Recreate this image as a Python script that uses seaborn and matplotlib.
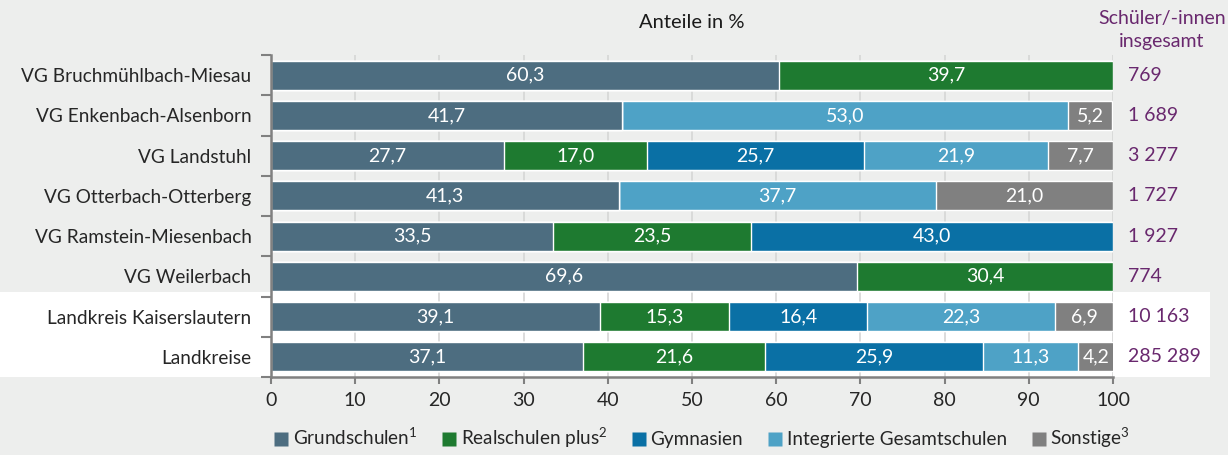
import numpy as np
import pandas as pd
import matplotlib
matplotlib.use('Agg')
import matplotlib.pyplot as plt
from matplotlib.patches import Rectangle
from matplotlib.lines import Line2D
import seaborn as sns

regions = ['VG Bruchmühlbach-Miesau', 'VG Enkenbach-Alsenborn', 'VG Landstuhl',
           'VG Otterbach-Otterberg', 'VG Ramstein-Miesenbach', 'VG Weilerbach',
           'Landkreis Kaiserslautern', 'Landkreise']
school_types = ['Grundschulen', 'Realschulen plus', 'Gymnasien',
                'Integrierte Gesamtschulen', 'Sonstige']
legend_labels = [r'Grundschulen$^1$', r'Realschulen plus$^2$', 'Gymnasien',
                 'Integrierte Gesamtschulen', r'Sonstige$^3$']

grundschulen = [60.3, 41.7, 27.7, 41.3, 33.5, 69.6, 39.1, 37.1]
realschulen = [39.7, 0.0, 17.0, 0.0, 23.5, 30.4, 15.3, 21.6]
gymnasien = [0.0, 0.0, 25.7, 0.0, 43.0, 0.0, 16.4, 25.9]
gesamtschulen = [0.0, 53.0, 21.9, 37.7, 0.0, 0.0, 22.3, 11.3]
sonstige = [0.0, 5.2, 7.7, 21.0, 0.0, 0.0, 6.9, 4.2]
totals = ['769', '1 689', '3 277', '1 727', '1 927', '774', '10 163', '285 289']

colors = ['#4d6d80', '#1e7a30', '#0a70a5', '#4ea2c6', '#808080']
bg = '#edeeed'
purple = '#69286e'

df = pd.DataFrame({'Region': regions, 'Grundschulen': grundschulen,
                   'Realschulen plus': realschulen, 'Gymnasien': gymnasien,
                   'Integrierte Gesamtschulen': gesamtschulen, 'Sonstige': sonstige})
cum = df[school_types].cumsum(axis=1)

sns.set_style('white')
plt.rcParams['font.family'] = ['Lato', 'DejaVu Sans']
plt.rcParams['mathtext.fontset'] = 'custom'
plt.rcParams['mathtext.rm'] = 'Lato'

fig = plt.figure(figsize=(12.28, 4.55), dpi=100, facecolor=bg)
# white band behind the two summary rows
band = Rectangle((0, 1 - 377 / 455), 1210 / 1228, 85 / 455,
                 transform=fig.transFigure, facecolor='white',
                 edgecolor='none', zorder=-5)
fig.patches.append(band)
ax = fig.add_axes([271 / 1228, 1 - 377 / 455, 842 / 1228, 322 / 455])
ax.set_facecolor('none')
ax.set_zorder(1)

# stacked bars: draw cumulative totals from last to first
for k in range(len(school_types) - 1, -1, -1):
    sns.barplot(x=cum[school_types[k]], y=df['Region'], orient='h',
                color=colors[k], width=0.72, saturation=1, ax=ax, zorder=2)

for i in range(len(regions)):
    left = 0
    for k, t in enumerate(school_types):
        v = df[t][i]
        if v > 0:
            ax.text(left + v / 2, i, f'{v:.1f}'.replace('.', ','), ha='center',
                    va='center', color='white', fontsize=14, zorder=3)
        left += v
    ax.text(101.8, i, totals[i], ha='left', va='center', color=purple,
            fontsize=14, clip_on=False)

ax.set_xlim(0, 100)
ax.set_ylim(7.5, -0.5)
ax.set_xticks(range(0, 101, 10))
ax.xaxis.grid(True, color='#d6d6d6', linewidth=1.2, zorder=0)
ax.set_axisbelow(True)
ax.set_xlabel('')
ax.set_ylabel('')
ax.tick_params(axis='x', labelsize=14, length=5, color='#808080', width=1.5,
               direction='out', pad=6, bottom=True)
ax.tick_params(axis='y', labelsize=13.7, length=0, pad=14)
ax.set_yticks(np.arange(-0.5, 8, 1), minor=True)
ax.tick_params(axis='y', which='minor', length=7, color='#808080', width=1.5,
               direction='out', left=True)
for s in ['top', 'right']:
    ax.spines[s].set_visible(False)
for s in ['left', 'bottom']:
    ax.spines[s].set_color('#808080')
    ax.spines[s].set_linewidth(1.8)

fig.text(692 / 1228, 1 - 22 / 455, 'Anteile in %', ha='center', va='center',
         fontsize=14.5, color='#1a1a1a')
fig.text(1162 / 1228, 1 - 30 / 455, 'Schüler/-innen\ninsgesamt', ha='center',
         va='center', fontsize=14, color=purple, linespacing=1.4)

handles = [Line2D([0], [0], marker='s', linestyle='none', markersize=10,
                  markerfacecolor=c, markeredgecolor='none') for c in colors]
fig.legend(handles, legend_labels, loc='center', bbox_to_anchor=(701 / 1228, 1 - 438 / 455),
           ncol=5, frameon=False, fontsize=13.6, handletextpad=0.1,
           columnspacing=1.2, handlelength=1.0)

fig.savefig('out.png', dpi=100, facecolor=bg)
